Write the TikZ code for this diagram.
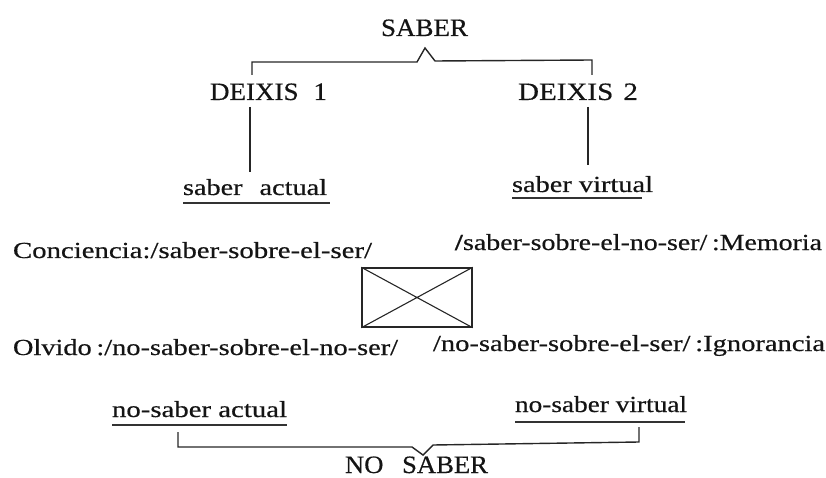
\documentclass[tikz,border=0pt]{standalone}
\usepackage{fontspec}
\setmainfont{Liberation Serif}[FakeBold=0.5]
\usepackage{graphicx}
% set a text to a given width, keeping its natural height
\newcommand{\fitto}[2]{\resizebox{#1}{\height}{#2}}

\begin{document}
\begin{tikzpicture}[x=1pt,y=-1pt,
  ink/.style={draw=black!85, line width=1.4pt, line join=miter},
  uline/.style={draw=black!80, line width=1.7pt},
  lbl/.style={inner sep=0pt, outer sep=0pt, anchor=base west, text=black!92,
              font=\fontsize{23}{27}\selectfont},
  caps/.style={lbl, font=\fontsize{25}{30}\selectfont}]
\useasboundingbox (0,0) rectangle (826,478);

% ---- upper half: SABER
\node[caps] (saber) at (381,36) {\fitto{87pt}{SABER}};
\node[caps] (dx1) at (210,100) {\fitto{117pt}{DEIXIS\hspace{0.55em}1}};
\node[caps] (dx2) at (518,100) {\fitto{120pt}{DEIXIS\hspace{0.35em}2}};
\node[lbl] (sact) at (183,195) {\fitto{144pt}{saber\hspace{0.6em}actual}};
\node[lbl] (svir) at (512,192) {\fitto{141pt}{saber virtual}};

% ---- the four positions
\node[lbl] (conc) at (13,258) {\fitto{359pt}{Conciencia:/saber-sobre-el-ser/}};
\node[lbl] (mem) at (455,250) {\fitto{367pt}{\textbf{/}saber-sobre-el-no-ser/\,:Memoria}};
\node[lbl] (olv) at (13,355) {\fitto{385pt}{Olvido\,:/no-saber-sobre-el-no-ser/}};
\node[lbl] (ign) at (433,351) {\fitto{392pt}{/no-saber-sobre-el-ser/\,:Ignorancia}};

% ---- lower half: NO SABER
\node[lbl] (nact) at (112,417) {\fitto{175pt}{no-saber actual}};
\node[lbl] (nvir) at (515,412) {\fitto{172pt}{no-saber virtual}};
\node[caps] (nosaber) at (345,473) {\fitto{143pt}{NO\hspace{0.7em}SABER}};

% ---- square with crossed diagonals
\node[draw=black!85, line width=1.5pt, minimum width=110pt, minimum height=59pt,
      inner sep=0pt] (box) at (417,297.5) {};
\draw[ink, line width=1.1pt] (box.north west) -- (box.south east)
                             (box.south west) -- (box.north east);

% ---- underlines
\draw[uline] ([yshift=-8pt]sact.base west) -- ++(147,0);
\draw[uline] ([yshift=-6pt]svir.base west) -- ++(130,0);
\draw[uline] ([yshift=-8pt]nact.base west) -- ++(175,0);
\draw[uline] ([yshift=-10pt]nvir.base west) -- ++(170,0);

% ---- upper bracket
\coordinate (d1top) at (252,75);
\coordinate (pk1) at (417,62);
\coordinate (peak) at (425,48);
\coordinate (pk2) at (435,61);
\coordinate (d2corner) at (592,60);
\coordinate (d2top) at (592,75);
\draw[ink] (d1top) |- (pk1) -- (peak) -- (pk2) -- (d2corner) -- (d2top);

% ---- stems from the deixes
\coordinate (d1low) at (250,107);
\coordinate (sacttop) at (250,172);
\coordinate (d2low) at (588,107);
\coordinate (svirtop) at (588,165);
\draw[ink] (d1low) -- (sacttop);
\draw[ink] (d2low) -- (svirtop);

% ---- lower bracket
\coordinate (nactbot) at (178,432);
\coordinate (nk1) at (412,447);
\coordinate (vtip) at (423,455);
\coordinate (nk2) at (433,445);
\coordinate (nvcorner) at (639,442);
\coordinate (nvirbot) at (639,427);
\draw[ink] (nactbot) |- (nk1) -- (vtip) -- (nk2) -- (nvcorner) -- (nvirbot);
\end{tikzpicture}
\end{document}
